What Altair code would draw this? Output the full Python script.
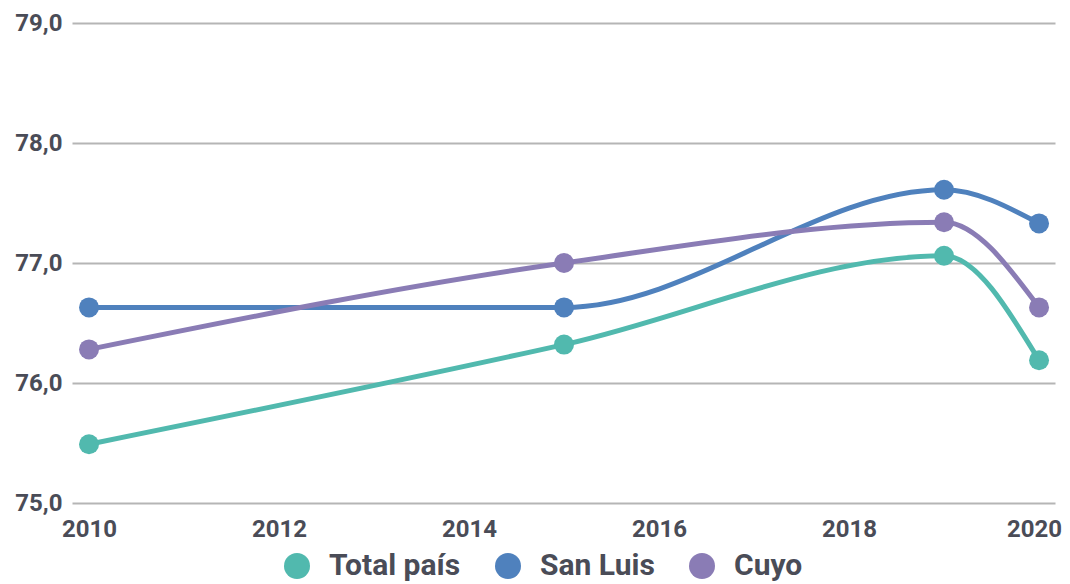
import altair as alt
import pandas as pd

years = [2010, 2015, 2019, 2020]
series_names = ["Total país", "San Luis", "Cuyo"]
total_pais = [75.49, 76.32, 77.06, 76.19]
san_luis = [76.63, 76.63, 77.61, 77.33]
cuyo = [76.28, 77.00, 77.34, 76.63]
colors = ["#51b9ae", "#4f81bd", "#8a7cb5"]
x_ticks = [2010, 2012, 2014, 2016, 2018, 2020]
y_ticks = [75, 76, 77, 78, 79]

rows = []
for name, vals in zip(series_names, [total_pais, san_luis, cuyo]):
    for yr, v in zip(years, vals):
        rows.append({"year": yr, "value": v, "serie": name})
df = pd.DataFrame(rows)

text_color = "#4a4c57"

x_enc = alt.X(
    "year:Q",
    scale=alt.Scale(domain=[2009.821, 2020.168], nice=False, zero=False),
    axis=alt.Axis(values=x_ticks, format="d", grid=False, domain=False, ticks=False,
                  labelPadding=14, labelFontSize=24, labelFont="Roboto",
                  labelFontWeight="bold", labelColor=text_color, title=None,
                  labelFlush=False,
                  labelOffset={"condition": {"test": "datum.value == 2020", "value": -5},
                               "value": 0}),
)
y_enc = alt.Y(
    "value:Q",
    scale=alt.Scale(domain=[75, 79], nice=False, zero=False),
    axis=alt.Axis(values=y_ticks, grid=True, domain=False, ticks=False,
                  labelPadding=10, labelFontSize=24, labelFont="Roboto",
                  labelFontWeight="bold", labelColor=text_color, title=None,
                  gridColor="#b5b5b5", gridWidth=2,
                  labelExpr="replace(format(datum.value, '.1f'), '.', ',')"),
)
color_enc = alt.Color(
    "serie:N",
    scale=alt.Scale(domain=series_names, range=colors),
    sort=series_names,
    legend=alt.Legend(
        title=None, orient="none", direction="horizontal",
        legendX=210, legendY=528,
        symbolType="circle", symbolSize=676, symbolStrokeWidth=0,
        labelFontSize=30, labelFont="Roboto", labelFontWeight="bold",
        labelColor=text_color, labelOffset=17, columnPadding=32, padding=0,
        symbolOpacity=1, labelLimit=300,
    ),
)

base = alt.Chart(df)
lines = base.mark_line(interpolate="monotone", strokeWidth=5).encode(
    x=x_enc, y=y_enc, color=color_enc, detail="serie:N"
)
points = base.mark_circle(size=400, opacity=1).encode(
    x=x_enc, y=y_enc, color=color_enc
)

chart = (
    alt.layer(lines, points)
    .properties(width=983, height=480,
                autosize=alt.AutoSizeParams(type="none"),
                padding={"left": 64, "top": 15, "right": 7, "bottom": 79})
    .configure(background="white", view=alt.ViewConfig(stroke=None))
)

chart.save("out.html", embed_options={"renderer": "svg", "actions": False})
